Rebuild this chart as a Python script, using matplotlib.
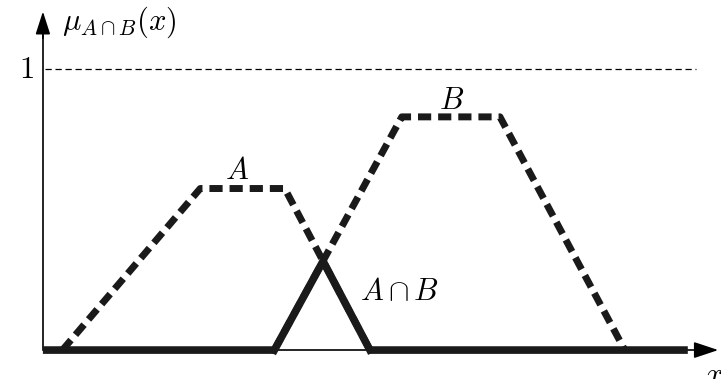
import numpy as np
import matplotlib.pyplot as plt

plt.rcParams['mathtext.fontset'] = 'cm'
plt.rcParams['font.family'] = 'serif'

# trapezoidal membership functions: (x, mu) corners
a_x = [0.3, 2.42, 3.72, 5.03]
a_mu = [0.0, 0.575, 0.575, 0.0]
b_x = [3.56, 5.52, 7.03, 8.95]
b_mu = [0.0, 0.83, 0.83, 0.0]
x_end = 10.05

# intersection = pointwise minimum
xs = np.linspace(0, x_end, 4001)
mu_a = np.interp(xs, a_x, a_mu)
mu_b = np.interp(xs, b_x, b_mu)
mu_ab = np.minimum(mu_a, mu_b)

fig = plt.figure(figsize=(7.21, 3.79), dpi=100)
ax = fig.add_axes([0, 0, 1, 1])
ax.set_xlim(-0.66, 10.43)
ax.set_ylim(-0.103, 1.246)
ax.axis('off')

# axes with arrows
ax.plot([0, x_end], [0, 0], color='black', lw=1.2, solid_capstyle='butt')
ax.plot([0, 0], [0, 1.12], color='black', lw=1.2)
ax.annotate('', xy=(10.43, 0), xytext=(10.0, 0),
            arrowprops=dict(arrowstyle='-|>,head_length=1.5,head_width=0.5',
                            color='black', lw=1.2))
ax.annotate('', xy=(0, 1.215), xytext=(0, 1.1),
            arrowprops=dict(arrowstyle='-|>,head_length=1.4,head_width=0.45',
                            color='black', lw=1.2))

# level 1
ax.plot([0.03, 10.05], [1, 1], color='black', lw=0.9, dashes=(5, 3))

# A and B
ax.plot(a_x, a_mu, color='#1a1a1a', lw=5, dashes=(1.9, 1.0))
ax.plot(b_x, b_mu, color='#1a1a1a', lw=5, dashes=(1.9, 1.0))

# A ∩ B, drawn in pieces so the thin axis shows under the triangle
left = xs <= b_x[0]
ax.plot(xs[left], mu_ab[left], color='#1a1a1a', lw=5.5, solid_capstyle='butt')
seg = (xs >= b_x[0]) & (xs <= a_x[3])
ax.plot(xs[seg], mu_ab[seg], color='#1a1a1a', lw=5.5, solid_joinstyle='miter')
right = (xs >= a_x[3]) & (xs <= 9.92)
ax.plot(xs[right], mu_ab[right], color='#1a1a1a', lw=5.5, solid_capstyle='butt')

# labels
ax.text(-0.25, 1.0, r'$1$', fontsize=22, ha='center', va='center')
ax.text(0.29, 1.167, r'$\mathrm{\mu}_{A\cap B}(x)$', fontsize=22, ha='left', va='center')
ax.text(2.985, 0.64, r'$A$', fontsize=22, ha='center', va='center')
ax.text(6.29, 0.89, r'$B$', fontsize=22, ha='center', va='center')
ax.text(5.49, 0.21, r'$A\cap B$', fontsize=22, ha='center', va='center')
ax.text(10.33, -0.09, r'$x$', fontsize=22, ha='center', va='center')

fig.savefig('out.png', dpi=100)
